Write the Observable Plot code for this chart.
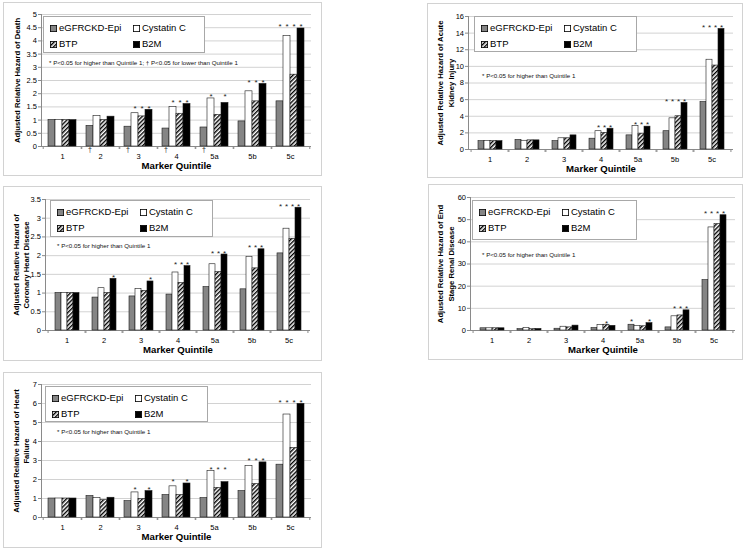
<!DOCTYPE html>
<html><head><meta charset="utf-8">
<script src="https://cdn.jsdelivr.net/npm/d3@7"></script>
<script src="https://cdn.jsdelivr.net/npm/@observablehq/plot@0.6"></script>
<style>
body{margin:0;background:#fff;font-family:"Liberation Sans",Arial,sans-serif;}
#page{position:relative;width:750px;height:549px;overflow:hidden;background:#fff}
.box{position:absolute;border:1px solid #d2d2d2;box-sizing:border-box}
.layer{position:absolute}
.layer svg{position:absolute;left:0;top:0;overflow:visible}
.legend{position:absolute;background:#fff;border:1px solid #a8a8a8;box-sizing:border-box}
.item{position:absolute;display:flex;align-items:center;font-size:9.5px;color:#000;white-space:nowrap;transform:translateY(-50%);line-height:10px}
.item svg{margin-right:2px;display:block}
.note{position:absolute;font-size:6.2px;line-height:7px;white-space:nowrap;color:#111;transform:translateY(-50%)}
</style></head><body>
<svg width="0" height="0" style="position:absolute"><defs>
<pattern id="hatch" width="3" height="3" patternUnits="userSpaceOnUse" patternTransform="rotate(45)">
<rect width="3" height="3" fill="#fff"/><line x1="0.7" y1="0" x2="0.7" y2="3" stroke="#000" stroke-width="1.4"/>
</pattern></defs></svg>
<div id="page"></div>
<script>
const quintiles = ["1","2","3","4","5a","5b","5c"];
const series = ["eGFRCKD-Epi","Cystatin C","BTP","B2M"];

// Death
const deathEGFR = [1.0,0.78,0.75,0.68,0.72,0.95,1.71];
const deathCys  = [1.0,1.15,1.26,1.50,1.82,2.09,4.18];
const deathBTP  = [1.0,1.00,1.14,1.24,1.20,1.71,2.72];
const deathB2M  = [1.0,1.13,1.39,1.61,1.65,2.37,4.47];
const deathStars = [["3","Cystatin C"],["3","BTP"],["3","B2M"],["4","Cystatin C"],["4","BTP"],["4","B2M"],["5a","Cystatin C"],["5a","B2M"],["5b","Cystatin C"],["5b","BTP"],["5b","B2M"],["5c","eGFRCKD-Epi"],["5c","Cystatin C"],["5c","BTP"],["5c","B2M"]];
const deathDaggers = [["2","eGFRCKD-Epi"],["3","eGFRCKD-Epi"],["4","eGFRCKD-Epi"],["5a","eGFRCKD-Epi"]];

// Acute kidney injury
const akiEGFR = [1.0,1.15,1.0,1.3,1.7,2.2,5.7];
const akiCys  = [1.0,1.05,1.35,2.2,2.85,3.75,10.8];
const akiBTP  = [1.0,1.1,1.35,2.0,1.9,4.0,10.1];
const akiB2M  = [1.0,1.1,1.7,2.5,2.75,5.6,14.5];
const akiStars = [["4","Cystatin C"],["4","BTP"],["4","B2M"],["5a","Cystatin C"],["5a","BTP"],["5a","B2M"],["5b","eGFRCKD-Epi"],["5b","Cystatin C"],["5b","BTP"],["5b","B2M"],["5c","eGFRCKD-Epi"],["5c","Cystatin C"],["5c","BTP"],["5c","B2M"]];

// Coronary heart disease
const chdEGFR = [1.0,0.88,0.91,0.96,1.16,1.10,2.06];
const chdCys  = [1.0,1.13,1.11,1.55,1.77,1.97,2.72];
const chdBTP  = [1.0,1.00,1.06,1.27,1.56,1.66,2.45];
const chdB2M  = [1.0,1.38,1.31,1.72,2.03,2.17,3.28];
const chdStars = [["2","B2M"],["3","B2M"],["4","Cystatin C"],["4","BTP"],["4","B2M"],["5a","Cystatin C"],["5a","BTP"],["5a","B2M"],["5b","Cystatin C"],["5b","BTP"],["5b","B2M"],["5c","eGFRCKD-Epi"],["5c","Cystatin C"],["5c","BTP"],["5c","B2M"]];

// End stage renal disease
const esrdEGFR = [1.0,0.6,0.8,1.1,2.6,1.4,22.7];
const esrdCys  = [1.0,1.1,1.7,2.5,2.1,6.4,46.5];
const esrdBTP  = [1.0,0.6,1.4,2.6,1.9,6.8,48.0];
const esrdB2M  = [1.0,0.7,2.2,2.1,3.3,9.1,52.0];
const esrdStars = [["4","BTP"],["5a","eGFRCKD-Epi"],["5a","B2M"],["5b","Cystatin C"],["5b","BTP"],["5b","B2M"],["5c","eGFRCKD-Epi"],["5c","Cystatin C"],["5c","BTP"],["5c","B2M"]];

// Heart failure
const hfEGFR = [1.0,1.13,0.86,1.18,1.02,1.39,2.78];
const hfCys  = [1.0,1.02,1.32,1.64,2.44,2.71,5.42];
const hfBTP  = [1.0,0.91,0.97,1.18,1.56,1.76,3.66];
const hfB2M  = [1.0,1.04,1.39,1.79,1.86,2.90,5.98];
const hfStars = [["3","Cystatin C"],["3","B2M"],["4","Cystatin C"],["4","B2M"],["5a","Cystatin C"],["5a","BTP"],["5a","B2M"],["5b","Cystatin C"],["5b","BTP"],["5b","B2M"],["5c","eGFRCKD-Epi"],["5c","Cystatin C"],["5c","BTP"],["5c","B2M"]];

const FONT = "'Liberation Sans', Arial, sans-serif";
const PAD = 0.27;
const fills = ["#858585","#ffffff","url(#hatch)","#000000"];

function rowsOf(vals){
  return quintiles.flatMap((q,i)=>series.map((s,j)=>({q, s, v: vals[j][i]})));
}
function flagRows(rows, flags){
  return flags.map(([q,s])=>({q, s, top: d3.max(rows.filter(r=>r.q===q), r=>r.v)}));
}

const panels = [
  {box:{l:3,t:2,w:319,h:174}, ml:38, mr:11, mt:12, mb:30, ymax:5, ticks:d3.range(0,5.01,0.5),
   vals:[deathEGFR,deathCys,deathBTP,deathB2M], stars:deathStars, daggers:deathDaggers,
   ytitle:"Adjusted Relative Hazard of Death", ytx:-25,
   legend:{l:43,t:16,w:162,h:37}, note:{x:49,y:62,text:"* P<0.05 for higher than Quintile 1; \u2020 P<0.05 for lower than Quintile 1"}},
  {box:{l:427,t:3,w:316,h:175}, ml:41, mr:10, mt:13, mb:29, ymax:16, ticks:d3.range(0,16.01,2),
   vals:[akiEGFR,akiCys,akiBTP,akiB2M], stars:akiStars, daggers:[],
   ytitle:"Adjusted Relative Hazard of Acute\nKidney Injury", ytx:-23.5,
   legend:{l:474,t:16,w:163,h:36}, note:{x:482,y:75,text:"* P<0.05 for higher than Quintile 1"}},
  {box:{l:3,t:186,w:319,h:175}, ml:42, mr:12, mt:13, mb:31, ymax:3.5, ticks:d3.range(0,3.51,0.5),
   vals:[chdEGFR,chdCys,chdBTP,chdB2M], stars:chdStars, daggers:[],
   ytitle:"Adjusted Relative Hazard of\nCoronary Heart Disease", ytx:-25,
   legend:{l:50,t:200,w:163,h:37}, note:{x:57,y:245,text:"* P<0.05 for higher than Quintile 1"}},
  {box:{l:428,t:184,w:315,h:176}, ml:42, mr:8, mt:13, mb:30, ymax:60, ticks:d3.range(0,60.1,10),
   vals:[esrdEGFR,esrdCys,esrdBTP,esrdB2M], stars:esrdStars, daggers:[],
   ytitle:"Adjusted Relative Hazard of End\nStage Renal Disease", ytx:-25.5,
   legend:{l:472,t:200,w:165,h:40}, note:{x:482,y:254,text:"* P<0.05 for higher than Quintile 1"}},
  {box:{l:3,t:372,w:319,h:176}, ml:38, mr:11, mt:12, mb:31, ymax:7, ticks:d3.range(0,7.01,1),
   vals:[hfEGFR,hfCys,hfBTP,hfB2M], stars:hfStars, daggers:[],
   ytitle:"Adjusted Relative Hazard of Heart\nFailure", ytx:-21,
   legend:{l:45,t:386,w:163,h:36}, note:{x:57,y:431,text:"* P<0.05 for higher than Quintile 1"}}
];

const page = document.getElementById("page");

function swatch(fill){
  return `<svg width="7" height="7"><rect x="0.4" y="0.4" width="6.2" height="6.2" fill="${fill}" stroke="#000" stroke-width="0.8"/></svg>`;
}

for (const p of panels){
  const {l,t,w,h} = p.box;
  const frame = document.createElement("div");
  frame.className = "box";
  Object.assign(frame.style,{left:l+"px",top:t+"px",width:w+"px",height:h+"px"});
  page.appendChild(frame);

  const layer = document.createElement("div");
  layer.className = "layer";
  Object.assign(layer.style,{left:l+"px",top:t+"px",width:w+"px",height:h+"px"});
  page.appendChild(layer);

  const plotW = w - p.ml - p.mr;
  const step = plotW / quintiles.length;
  const common = {width:w, height:h, marginLeft:p.ml, marginRight:p.mr, marginTop:p.mt, marginBottom:p.mb,
    style:{fontFamily:FONT, background:"transparent", overflow:"visible", color:"#000"}};

  const bg = Plot.plot({...common,
    x:{type:"band", domain:quintiles, paddingInner:PAD, paddingOuter:PAD/2, axis:null},
    y:{domain:[0,p.ymax], axis:null},
    marks:[
      Plot.ruleY(p.ticks, {stroke:"#c6c6c6", strokeWidth:0.8}),
      Plot.frame({anchor:"left", stroke:"#8a8a8a"}),
      Plot.ruleY([0], {stroke:"#8a8a8a"}),
      Plot.axisY({ticks:p.ticks, tickSize:3, tickPadding:1.5, fontSize:7.5, stroke:"#8a8a8a", fill:"#000", label:null, tickFormat:d=>String(+d.toFixed(2))}),
      Plot.axisX({tickSize:0, tickPadding:7, fontSize:7.5, fill:"#000", label:null}),
      Plot.axisX({text:null, tickSize:3, dx:step/2, stroke:"#8a8a8a", label:null}),
      Plot.axisX({text:null, tickSize:3, dx:-step/2, stroke:"#8a8a8a", label:null}),
      Plot.text([p.ytitle], {text:d=>d, frameAnchor:"left", textAnchor:"middle", lineAnchor:"middle", dx:p.ytx, rotate:-90, fontSize:7.7, fontWeight:"bold", lineHeight:1.35, fill:"#000"}),
      Plot.text(["Marker Quintile"], {text:d=>d, frameAnchor:"bottom", dy:22, fontSize:9.6, fontWeight:"bold", fill:"#000"})
    ]});
  layer.appendChild(bg);

  const rows = rowsOf(p.vals);
  const fg = Plot.plot({...common,
    fx:{domain:quintiles, paddingInner:PAD, paddingOuter:PAD/2, axis:null, label:null},
    x:{domain:series, paddingInner:0, paddingOuter:0, axis:null},
    y:{domain:[0,p.ymax], axis:null},
    color:{domain:series, range:fills},
    marks:[
      Plot.barY(rows, {fx:"q", x:"s", y:"v", fill:"s", stroke:"#1a1a1a", strokeWidth:0.6}),
      Plot.text(flagRows(rows, p.stars), {fx:"q", x:"s", y:"top", text:()=>"*", lineAnchor:"bottom", dy:1, fontSize:8, fill:"#222"}),
      Plot.text(flagRows(rows, p.daggers), {fx:"q", x:"s", y:()=>0, text:()=>"\u2020", lineAnchor:"top", dy:1, fontSize:7, fill:"#222"})
    ]});
  layer.appendChild(fg);

  // legend
  const lg = document.createElement("div");
  lg.className = "legend";
  Object.assign(lg.style,{left:p.legend.l+"px",top:p.legend.t+"px",width:p.legend.w+"px",height:p.legend.h+"px"});
  const pos = [[6,11],[89,11],[6,27],[89,27]];
  series.forEach((s,i)=>{
    const it = document.createElement("div");
    it.className = "item";
    it.style.left = pos[i][0]+"px"; it.style.top = pos[i][1]+"px";
    it.innerHTML = swatch(fills[i]) + "<span>"+s+"</span>";
    lg.appendChild(it);
  });
  page.appendChild(lg);

  const nt = document.createElement("div");
  nt.className = "note";
  nt.style.left = p.note.x+"px"; nt.style.top = p.note.y+"px";
  nt.textContent = p.note.text;
  page.appendChild(nt);
}
</script>
</body></html>
